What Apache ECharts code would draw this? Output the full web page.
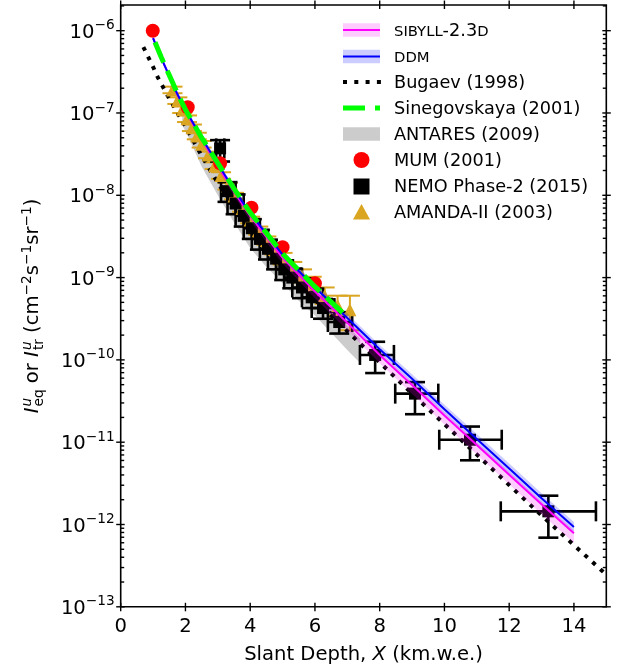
<!DOCTYPE html>
<html>
<head>
<meta charset="utf-8">
<script src="https://cdn.jsdelivr.net/npm/echarts@6/dist/echarts.min.js"></script>
<style>
html,body{margin:0;padding:0;background:#fff;}
#chart{width:622px;height:670px;}
</style>
</head>
<body>
<div id="chart"></div>
<script>
// ---------- data (intensities stored as log10 of I in cm^-2 s^-1 sr^-1) ----------
const xTickValues = [0, 2, 4, 6, 8, 10, 12, 14];
const yTickExponents = [-13, -12, -11, -10, -9, -8, -7, -6];

const theoryX    = [1.0, 1.25, 1.5, 1.75, 2.0, 2.5, 3.0, 3.5, 4.0, 4.5, 5.0, 6.0, 7.0, 8.0, 9.0, 10.0, 11.0, 12.0, 13.0, 14.0];
const ddmLog     = [-6.09, -6.33, -6.55, -6.77, -6.96, -7.30, -7.62, -7.93, -8.22, -8.47, -8.72, -9.12, -9.49, -9.87, -10.23, -10.60, -10.96, -11.32, -11.68, -12.03];
const ddmHigh    = [-6.07, -6.31, -6.53, -6.745, -6.935, -7.27, -7.59, -7.895, -8.185, -8.43, -8.68, -9.075, -9.44, -9.82, -10.175, -10.545, -10.90, -11.26, -11.62, -11.97];
const ddmLow     = [-6.11, -6.35, -6.57, -6.795, -6.985, -7.33, -7.65, -7.965, -8.255, -8.51, -8.76, -9.165, -9.54, -9.92, -10.285, -10.655, -11.02, -11.38, -11.74, -12.09];
const sibyllLog  = [-6.09, -6.33, -6.55, -6.775, -6.97, -7.315, -7.64, -7.955, -8.25, -8.505, -8.76, -9.17, -9.55, -9.94, -10.305, -10.675, -11.035, -11.395, -11.755, -12.105];
const sibyllHigh = [-6.07, -6.31, -6.53, -6.75, -6.945, -7.29, -7.615, -7.925, -8.22, -8.475, -8.73, -9.135, -9.515, -9.905, -10.27, -10.64, -11.0, -11.36, -11.72, -12.07];
const sibyllLow  = [-6.11, -6.355, -6.58, -6.81, -7.01, -7.36, -7.69, -8.01, -8.31, -8.57, -8.83, -9.25, -9.64, -10.04, -10.41, -10.785, -11.15, -11.51, -11.875, -12.225];

const bugaevX   = [0.7, 0.85, 1.0, 1.15, 1.3, 1.45, 1.6, 1.8, 2.0, 2.5, 3.0, 3.5, 4.0, 5.0, 6.0, 7.0, 8.0, 9.0, 10.0, 11.0, 12.0, 13.0, 14.0, 15.0];
const bugaevLog = [-6.20, -6.32, -6.44, -6.57, -6.68, -6.79, -6.89, -7.03, -7.16, -7.52, -7.85, -8.13, -8.39, -8.86, -9.27, -9.65, -10.03, -10.41, -10.78, -11.15, -11.52, -11.89, -12.25, -12.61];

const sinegX   = [1.06, 1.25, 1.5, 1.75, 2.0, 2.5, 3.0, 3.5, 4.0, 4.5, 5.0, 6.0, 7.0];
const sinegLog = [-6.14, -6.32, -6.54, -6.76, -6.96, -7.30, -7.61, -7.92, -8.21, -8.46, -8.71, -9.11, -9.48];

const antaresX    = [1.9, 2.0, 2.5, 3.0, 3.5, 4.0, 4.5, 5.0, 5.5, 6.0, 6.5, 7.0, 7.4];
const antaresHigh = [-6.93, -7.0, -7.36, -7.68, -7.99, -8.28, -8.53, -8.78, -8.99, -9.19, -9.38, -9.58, -9.74];
const antaresLow  = [-7.15, -7.22, -7.65, -8.0, -8.33, -8.64, -8.87, -9.07, -9.28, -9.46, -9.67, -9.88, -10.04];

const mumX   = [0.99, 2.07, 3.07, 4.04, 5.0, 6.0];
const mumLog = [-6.0, -6.93, -7.61, -8.15, -8.63, -9.07];

const nemoX     = [3.07, 3.3, 3.55, 3.8, 4.05, 4.3, 4.55, 4.8, 5.05, 5.3, 5.6, 5.9, 6.25, 6.75, 7.86, 9.09, 10.79, 13.21];
const nemoLog   = [-7.43, -7.95, -8.10, -8.25, -8.40, -8.53, -8.65, -8.77, -8.90, -9.0, -9.12, -9.24, -9.37, -9.54, -9.94, -10.41, -10.97, -11.84];
const nemoXLow  = [2.95, 3.1, 3.3, 3.55, 3.8, 4.05, 4.3, 4.55, 4.8, 5.05, 5.3, 5.6, 5.9, 6.4, 7.39, 8.48, 9.84, 11.74];
const nemoXHigh = [3.2, 3.55, 3.8, 4.05, 4.3, 4.55, 4.8, 5.05, 5.3, 5.6, 5.9, 6.25, 6.6, 7.15, 8.44, 9.81, 11.77, 14.68];
const nemoLogLow  = [-7.59, -8.08, -8.23, -8.38, -8.53, -8.66, -8.78, -8.90, -9.03, -9.13, -9.25, -9.37, -9.50, -9.68, -10.16, -10.66, -11.22, -12.16];
const nemoLogHigh = [-7.33, -7.84, -7.99, -8.14, -8.29, -8.42, -8.54, -8.66, -8.79, -8.89, -9.01, -9.13, -9.26, -9.42, -9.78, -10.27, -10.81, -11.65];

const amandaX     = [1.6, 1.75, 1.9, 2.05, 2.2, 2.35, 2.5, 2.7, 2.9, 3.1, 3.3, 3.5, 3.75, 4.0, 4.25, 4.5, 4.75, 5.0, 5.3, 5.6, 5.9, 6.3, 6.7, 7.08];
const amandaLog   = [-6.72, -6.85, -6.96, -7.07, -7.18, -7.28, -7.38, -7.51, -7.64, -7.76, -7.89, -8.01, -8.16, -8.30, -8.43, -8.55, -8.66, -8.77, -8.88, -8.98, -9.08, -9.22, -9.34, -9.39];
const amandaLogLow  = [-6.76, -6.89, -7.0, -7.11, -7.22, -7.32, -7.42, -7.55, -7.68, -7.80, -7.93, -8.05, -8.20, -8.34, -8.48, -8.60, -8.72, -8.84, -8.95, -9.06, -9.17, -9.32, -9.46, -9.64];
const amandaLogHigh = [-6.68, -6.81, -6.92, -7.03, -7.14, -7.24, -7.34, -7.47, -7.60, -7.72, -7.85, -7.97, -8.12, -8.26, -8.38, -8.50, -8.60, -8.70, -8.81, -8.90, -8.99, -9.12, -9.22, -9.22];

const legendLabels = ['SIBYLL-2.3D', 'DDM', 'Bugaev (1998)', 'Sinegovskaya (2001)', 'ANTARES (2009)', 'MUM (2001)', 'NEMO Phase-2 (2015)', 'AMANDA-II (2003)'];

// ---------- styling ----------
const FONT = '"DejaVu Sans", "Liberation Sans", sans-serif';
const TICKF = 19.6;
const X_MIN = 0, X_MAX = 15, Y_MIN = -13, Y_MAX = -5.688;
const GOLD = '#daa520';

const pairs = (xs, ys) => xs.map((x, i) => [x, ys[i]]);

function bandSeries(name, xs, lo, hi, fill, z) {
  return {
    type: 'custom', name, z, silent: true, clip: true,
    data: xs.map((x, i) => [x, lo[i], hi[i]]),
    encode: { x: 0, y: [1, 2] },
    renderItem(params, api) {
      if (params.dataIndex !== 0) return null;
      const top = xs.map((x, i) => api.coord([x, hi[i]]));
      const bot = xs.map((x, i) => api.coord([x, lo[i]])).reverse();
      return { type: 'polygon', shape: { points: top.concat(bot) }, style: { fill } };
    }
  };
}

function errorSeries(name, rows, color, lw, cap, z) {
  return {
    type: 'custom', name, z, silent: true, clip: false,
    data: rows,
    encode: { x: 0, y: 1 },
    renderItem(params, api) {
      const x = api.value(0), y = api.value(1);
      const xlo = api.value(2), xhi = api.value(3), ylo = api.value(4), yhi = api.value(5);
      const st = { stroke: color, lineWidth: lw };
      const ch = [];
      const a = api.coord([x, ylo]), b = api.coord([x, yhi]);
      ch.push({ type: 'line', shape: { x1: a[0], y1: a[1], x2: b[0], y2: b[1] }, style: st });
      ch.push({ type: 'line', shape: { x1: a[0] - cap, y1: a[1], x2: a[0] + cap, y2: a[1] }, style: st });
      ch.push({ type: 'line', shape: { x1: b[0] - cap, y1: b[1], x2: b[0] + cap, y2: b[1] }, style: st });
      if (xhi !== xlo) {
        const l = api.coord([xlo, y]), r = api.coord([xhi, y]);
        ch.push({ type: 'line', shape: { x1: l[0], y1: l[1], x2: r[0], y2: r[1] }, style: st });
        ch.push({ type: 'line', shape: { x1: l[0], y1: l[1] - cap, x2: l[0], y2: l[1] + cap }, style: st });
        ch.push({ type: 'line', shape: { x1: r[0], y1: r[1] - cap, x2: r[0], y2: r[1] + cap }, style: st });
      }
      return { type: 'group', children: ch };
    }
  };
}

const nemoRows = nemoX.map((x, i) => [x, nemoLog[i], nemoXLow[i], nemoXHigh[i], nemoLogLow[i], nemoLogHigh[i]]);
const amandaRows = amandaX.map((x, i) => [x, amandaLog[i], x, x, amandaLogLow[i], amandaLogHigh[i]]);

// ticks (matplotlib style: major in/out on all four sides, log minors inside)
const tickSeries = {
  type: 'custom', name: 'ticks', z: 20, silent: true, clip: false,
  data: [[0, Y_MIN]],
  encode: { x: 0, y: 1 },
  renderItem(params, api) {
    const ch = [];
    const st = { stroke: '#000', lineWidth: 1.4 };
    const yb = api.coord([0, Y_MIN])[1], yt = api.coord([0, Y_MAX])[1];
    const xl = api.coord([X_MIN, -10])[0], xr = api.coord([X_MAX, -10])[0];
    const L = (x1, y1, x2, y2) => ch.push({ type: 'line', shape: { x1, y1, x2, y2 }, style: st });
    xTickValues.forEach(v => {
      const x = api.coord([v, -10])[0];
      L(x, yb - 4, x, yb + 4.5); L(x, yt - 4.5, x, yt + 4);
    });
    yTickExponents.forEach(e => {
      const y = api.coord([0, e])[1];
      L(xl - 4.5, y, xl + 4, y); L(xr - 4, y, xr + 4.5, y);
      for (let k = 2; k <= 9; k++) {
        const v = e + Math.log10(k);
        if (v > Y_MAX) continue;
        const ym = api.coord([0, v])[1];
        L(xl, ym, xl + 3.5, ym); L(xr - 3.5, ym, xr, ym);
      }
    });
    return { type: 'group', children: ch };
  }
};

// ---------- y-axis title (mathtext-like, built from real text pieces) ----------
function yTitle() {
  const F = TICKF, S = 13.7;
  const ctx = document.createElement('canvas').getContext('2d');
  const w = (t, size, it) => { ctx.font = (it ? 'italic ' : '') + size + 'px "DejaVu Sans"'; return ctx.measureText(t).width; };
  const pieces = [];
  let cx = 0;
  const add = (t, size, it, base) => pieces.push({ t, size, it, x: cx, base });
  const SUP = -0.42 * F, SUB = 0.22 * F;
  add('I', F, true, 0); cx += w('I', F, true) + 1;
  add('u', S, true, SUP); add('eq', S, false, SUB); cx += Math.max(w('u', S, true), w('eq', S, false));
  add(' or ', F, false, 0); cx += w(' or ', F, false);
  add('I', F, true, 0); cx += w('I', F, true) + 1;
  add('u', S, true, SUP); add('tr', S, false, SUB); cx += Math.max(w('u', S, true), w('tr', S, false));
  add(' (cm', F, false, 0); cx += w(' (cm', F, false);
  add('\u22122', S, false, SUP); cx += w('\u22122', S, false);
  add('s', F, false, 0); cx += w('s', F, false);
  add('\u22121', S, false, SUP); cx += w('\u22121', S, false);
  add('sr', F, false, 0); cx += w('sr', F, false);
  add('\u22121', S, false, SUP); cx += w('\u22121', S, false);
  add(')', F, false, 0); cx += w(')', F, false);
  const total = cx;
  const baseShift = 6;
  return {
    type: 'group', x: 34, y: 306, rotation: Math.PI / 2,
    children: pieces.map(p => ({
      type: 'text', x: p.x - total / 2, y: p.base - 0.346 * p.size + baseShift,
      style: { text: p.t, fontSize: p.size, fontFamily: '"DejaVu Sans"', fontStyle: p.it ? 'italic' : 'normal', fill: '#000', textAlign: 'left', textVerticalAlign: 'middle' }
    }))
  };
}

// ---------- legend (drawn as graphic elements) ----------
function legendGraphics() {
  const rowY = [30, 56.5, 82, 108, 134, 160, 186.5, 212.5];
  const hx0 = 343, hx1 = 380, hxc = 361.5, tx = 394;
  const LF = 17.7;
  const els = [];
  els.push({ type: 'rect', shape: { x: hx0, y: rowY[0] - 6.8, width: hx1 - hx0, height: 13.6 }, style: { fill: 'rgba(255,0,255,0.2)' } });
  els.push({ type: 'line', shape: { x1: hx0, y1: rowY[0], x2: hx1, y2: rowY[0] }, style: { stroke: '#ff00ff', lineWidth: 2 } });
  els.push({ type: 'rect', shape: { x: hx0, y: rowY[1] - 6.8, width: hx1 - hx0, height: 13.6 }, style: { fill: 'rgba(0,0,255,0.2)' } });
  els.push({ type: 'line', shape: { x1: hx0, y1: rowY[1], x2: hx1, y2: rowY[1] }, style: { stroke: '#0000ff', lineWidth: 2 } });
  els.push({ type: 'line', shape: { x1: hx0, y1: rowY[2], x2: hx1 + 1, y2: rowY[2] }, style: { stroke: '#000', lineWidth: 4, lineDash: [4, 7.3] } });
  els.push({ type: 'line', shape: { x1: hx0, y1: rowY[3], x2: hx1, y2: rowY[3] }, style: { stroke: '#00ff00', lineWidth: 5, lineDash: [22, 10] } });
  els.push({ type: 'rect', shape: { x: hx0, y: rowY[4] - 6.8, width: hx1 - hx0, height: 13.6 }, style: { fill: '#cccccc' } });
  els.push({ type: 'circle', shape: { cx: hxc, cy: rowY[5], r: 8 }, style: { fill: '#ff0000' } });
  els.push({ type: 'rect', shape: { x: hxc - 8, y: rowY[6] - 8, width: 16, height: 16 }, style: { fill: '#000' } });
  els.push({ type: 'polygon', shape: { points: [[hxc, rowY[7] - 8.5], [hxc + 8.5, rowY[7] + 7], [hxc - 8.5, rowY[7] + 7]] }, style: { fill: GOLD } });

  const texts = [
    '{sc|SIBYLL}{n|-2.3}{sc|D}', '{sc|DDM}',
    '{n|' + legendLabels[2] + '}', '{n|' + legendLabels[3] + '}', '{n|' + legendLabels[4] + '}',
    '{n|' + legendLabels[5] + '}', '{n|' + legendLabels[6] + '}', '{n|' + legendLabels[7] + '}'
  ];
  texts.forEach((t, i) => {
    els.push({
      type: 'text', x: tx, y: rowY[i],
      style: {
        text: t, fill: '#000', textAlign: 'left', textVerticalAlign: 'middle',
        rich: {
          n: { fontSize: LF, fontFamily: '"DejaVu Sans"', color: '#000', verticalAlign: 'bottom', lineHeight: 20 },
          sc: { fontSize: 14.8, fontFamily: '"DejaVu Sans"', color: '#000', verticalAlign: 'bottom', lineHeight: 20, padding: [0, 0, 0.6, 0] }
        }
      }
    });
  });
  return els;
}

const chart = echarts.init(document.getElementById('chart'), null, { renderer: 'canvas', width: 622, height: 670 });

const option = {
  animation: false,
  backgroundColor: '#ffffff',
  grid: { left: 120.7, right: 15.7, top: 5, bottom: 63.2, show: true, borderColor: '#000', borderWidth: 1.6, backgroundColor: 'transparent' },
  xAxis: {
    type: 'value', min: X_MIN, max: X_MAX, interval: 2,
    axisLine: { show: false }, axisTick: { show: false }, splitLine: { show: false },
    axisLabel: {
      color: '#000', fontSize: TICKF, fontFamily: FONT, margin: 10,
      formatter: v => (xTickValues.indexOf(v) >= 0 ? String(v) : '')
    },
    name: '{n|Slant Depth, }{i|X}{n| (km.w.e.)}',
    nameLocation: 'middle', nameGap: 38,
    nameTextStyle: {
      rich: {
        n: { fontSize: TICKF, fontFamily: FONT, color: '#000' },
        i: { fontSize: TICKF, fontFamily: FONT, fontStyle: 'italic', color: '#000' }
      }
    }
  },
  yAxis: {
    type: 'value', min: Y_MIN, max: Y_MAX, interval: 1,
    axisLine: { show: false }, axisTick: { show: false }, splitLine: { show: false },
    axisLabel: {
      margin: 6,
      formatter: v => (yTickExponents.indexOf(Math.round(v)) >= 0 && Math.abs(v - Math.round(v)) < 1e-6 ? '{b|10}{s|\u2212' + (-Math.round(v)) + '}' : ''),
      rich: {
        b: { fontSize: TICKF, fontFamily: FONT, color: '#000', verticalAlign: 'bottom', lineHeight: 24 },
        s: { fontSize: 13.7, fontFamily: FONT, color: '#000', verticalAlign: 'top', lineHeight: 16 }
      }
    }
  },
  graphic: { elements: [yTitle()].concat(legendGraphics()) },
  series: [
    bandSeries('ANTARES (2009)', antaresX, antaresLow, antaresHigh, '#cccccc', 1),
    errorSeries('AMANDA-II errors', amandaRows, GOLD, 2, 10, 2),
    errorSeries('NEMO errors', nemoRows, '#000', 2.6, 10, 2),
    {
      type: 'line', name: 'Bugaev (1998)', z: 2, data: pairs(bugaevX, bugaevLog), showSymbol: false, symbol: 'none', silent: true,
      lineStyle: { color: '#000', width: 4, type: [4, 6.6], cap: 'butt' }
    },
    { type: 'scatter', name: 'AMANDA-II (2003)', z: 2, data: pairs(amandaX, amandaLog), symbol: 'triangle', symbolSize: 13, itemStyle: { color: GOLD, opacity: 1 }, silent: true },
    { type: 'scatter', name: 'NEMO Phase-2 (2015)', z: 2, data: pairs(nemoX, nemoLog), symbol: 'rect', symbolSize: 12, itemStyle: { color: '#000', opacity: 1 }, silent: true },
    bandSeries('SIBYLL-2.3d band', theoryX, sibyllLow, sibyllHigh, 'rgba(255,0,255,0.2)', 3),
    bandSeries('DDM band', theoryX, ddmLow, ddmHigh, 'rgba(0,0,255,0.2)', 3),
    { type: 'scatter', name: 'MUM (2001)', z: 3, data: pairs(mumX, mumLog), symbol: 'circle', symbolSize: 14, itemStyle: { color: '#ff0000', opacity: 1 }, silent: true },
    {
      type: 'line', name: 'SIBYLL-2.3d', z: 4, data: pairs(theoryX, sibyllLog), showSymbol: false, symbol: 'none', silent: true,
      lineStyle: { color: '#ff00ff', width: 2 }
    },
    {
      type: 'line', name: 'DDM', z: 4, data: pairs(theoryX, ddmLog), showSymbol: false, symbol: 'none', silent: true,
      lineStyle: { color: '#0000ff', width: 2 }
    },
    {
      type: 'line', name: 'Sinegovskaya (2001)', z: 5, data: pairs(sinegX, sinegLog), showSymbol: false, symbol: 'none', silent: true,
      lineStyle: { color: '#00ff00', width: 5, type: [22, 9], cap: 'butt' }
    },
    tickSeries
  ]
};
chart.setOption(option);
</script>
</body>
</html>
